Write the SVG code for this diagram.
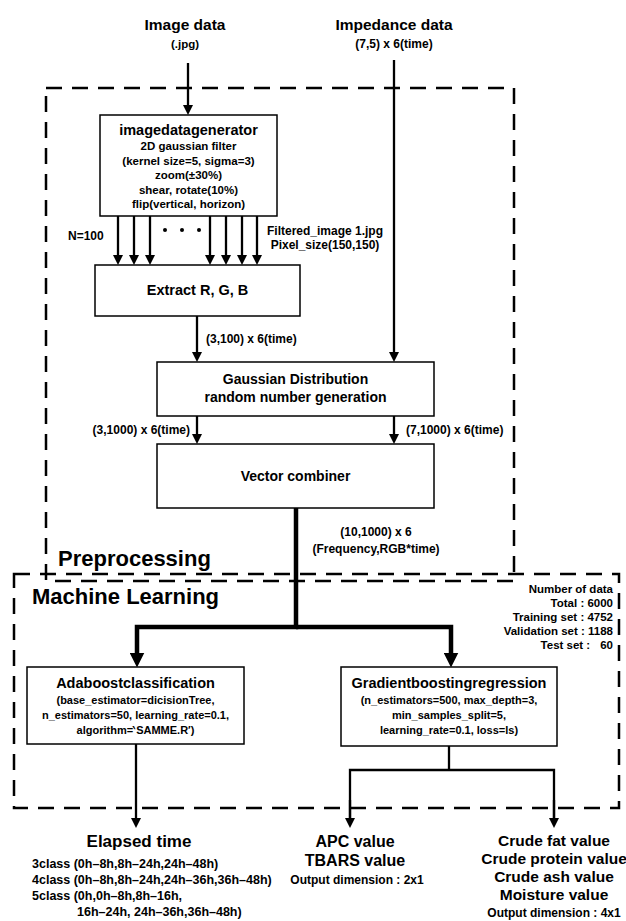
<svg xmlns="http://www.w3.org/2000/svg" width="626" height="921" viewBox="0 0 626 921">
<style>
text{font-family:"Liberation Sans",Arial,sans-serif;font-weight:bold;fill:#000}
.box{fill:#fff;stroke:#000;stroke-width:1.5}
.dash{fill:none;stroke:#000;stroke-width:2.5;stroke-dasharray:16 10}
.ln{fill:none;stroke:#000;stroke-width:2.3}
.thk{fill:none;stroke:#000;stroke-width:4.5}
.m{text-anchor:middle}
.e{text-anchor:end}
</style>
<defs>
<marker id="ah" viewBox="0 0 10 10" refX="5" refY="5" markerWidth="10" markerHeight="10" markerUnits="userSpaceOnUse" orient="auto"><path d="M0,0 L10,5 L0,10 z"/></marker>
<marker id="ahb" viewBox="0 0 10 10" refX="5" refY="5" markerWidth="15" markerHeight="15" markerUnits="userSpaceOnUse" orient="auto"><path d="M0,0 L10,5 L0,10 z"/></marker>
</defs>
<rect width="626" height="921" fill="#fff"/>

<g id="groups">
<rect class="dash" x="46" y="88" width="468" height="493"/>
<text x="58" y="566" font-size="22">Preprocessing</text>
<rect class="dash" x="14" y="574" width="605" height="234"/>
<text x="32" y="604" font-size="22">Machine Learning</text>
</g>

<g id="connectors">
<line class="ln" x1="188" y1="63" x2="188" y2="110" marker-end="url(#ah)"/>
<line class="ln" x1="394" y1="60" x2="394" y2="357" marker-end="url(#ah)"/>
<line class="ln" x1="118" y1="216" x2="118" y2="260" marker-end="url(#ah)"/>
<line class="ln" x1="134" y1="216" x2="134" y2="260" marker-end="url(#ah)"/>
<line class="ln" x1="150" y1="216" x2="150" y2="260" marker-end="url(#ah)"/>
<line class="ln" x1="210" y1="216" x2="210" y2="260" marker-end="url(#ah)"/>
<line class="ln" x1="226" y1="216" x2="226" y2="260" marker-end="url(#ah)"/>
<line class="ln" x1="242" y1="216" x2="242" y2="260" marker-end="url(#ah)"/>
<line class="ln" x1="257" y1="216" x2="257" y2="260" marker-end="url(#ah)"/>
<circle cx="165" cy="230" r="2"/>
<circle cx="182" cy="230" r="2"/>
<circle cx="199" cy="230" r="2"/>
<line class="ln" x1="197" y1="316" x2="197" y2="357" marker-end="url(#ah)"/>
<line class="ln" x1="197" y1="416" x2="197" y2="439" marker-end="url(#ah)"/>
<line class="ln" x1="394" y1="416" x2="394" y2="439" marker-end="url(#ah)"/>
<polyline class="thk" points="296,508 296,627 137,627 137,660" marker-end="url(#ahb)"/>
<polyline class="thk" points="296,627 451,627 451,660" marker-end="url(#ahb)"/>
<line class="ln" x1="136" y1="744" x2="136" y2="823" marker-end="url(#ah)"/>
<polyline class="ln" points="449,746 449,770"/>
<polyline class="ln" points="350,823 350,770 554,770 554,823"/>
<line class="ln" x1="350" y1="800" x2="350" y2="823" marker-end="url(#ah)"/>
<line class="ln" x1="554" y1="800" x2="554" y2="823" marker-end="url(#ah)"/>
</g>

<g id="inputs">
<text class="m" x="185" y="30" font-size="15.5">Image data</text>
<text class="m" x="185" y="48" font-size="11.5">(.jpg)</text>
<text class="m" x="394" y="30" font-size="15.5">Impedance data</text>
<text class="m" x="394" y="48" font-size="12">(7,5) x 6(time)</text>
</g>

<g id="imagedatagenerator">
<rect class="box" x="100" y="115" width="177" height="101"/>
<text class="m" x="188.5" y="135" font-size="14.5">imagedatagenerator</text>
<text class="m" x="188.5" y="150" font-size="11.5">2D gaussian filter</text>
<text class="m" x="188.5" y="164.5" font-size="11.5">(kernel size=5, sigma=3)</text>
<text class="m" x="188.5" y="179" font-size="11.5">zoom(±30%)</text>
<text class="m" x="188.5" y="193.5" font-size="11.5">shear, rotate(10%)</text>
<text class="m" x="188.5" y="208" font-size="11.5">flip(vertical, horizon)</text>
</g>

<g id="labels-pre">
<text x="68" y="240" font-size="12">N=100</text>
<text class="m" x="325" y="235" font-size="12">Filtered_image 1.jpg</text>
<text class="m" x="325" y="249" font-size="12">Pixel_size(150,150)</text>
<text x="206" y="343" font-size="12">(3,100) x 6(time)</text>
<text class="e" x="190" y="434" font-size="12">(3,1000) x 6(time)</text>
<text x="406" y="434" font-size="12">(7,1000) x 6(time)</text>
<text class="m" x="376" y="536" font-size="12">(10,1000) x 6</text>
<text class="m" x="376" y="553" font-size="12">(Frequency,RGB*time)</text>
</g>

<g id="extract">
<rect class="box" x="95" y="265" width="205" height="51"/>
<text class="m" x="197.5" y="295" font-size="14.5">Extract R, G, B</text>
</g>

<g id="gaussian">
<rect class="box" x="157" y="362" width="277" height="54"/>
<text class="m" x="295.5" y="384" font-size="14">Gaussian Distribution</text>
<text class="m" x="295.5" y="402" font-size="14">random number generation</text>
</g>

<g id="vectorcombiner">
<rect class="box" x="157" y="444" width="277" height="64"/>
<text class="m" x="295.5" y="481" font-size="14">Vector combiner</text>
</g>

<g id="numberofdata">
<text class="e" x="613" y="593" font-size="11.5">Number of data</text>
<text class="e" x="613" y="607" font-size="11.5">Total : 6000</text>
<text class="e" x="613" y="621" font-size="11.5">Training set : 4752</text>
<text class="e" x="613" y="635" font-size="11.5">Validation set : 1188</text>
<text class="e" x="613" y="649" font-size="11.5">Test set :<tspan dx="10">60</tspan></text>
</g>

<g id="adaboost">
<rect class="box" x="27" y="667" width="217" height="77"/>
<text class="m" x="135.5" y="688" font-size="14.5">Adaboostclassification</text>
<text class="m" x="135.5" y="704" font-size="11">(base_estimator=dicisionTree,</text>
<text class="m" x="135.5" y="719" font-size="11">n_estimators=50, learning_rate=0.1,</text>
<text class="m" x="135.5" y="734" font-size="11">algorithm=‵SAMME.R′)</text>
</g>

<g id="gradientboosting">
<rect class="box" x="341" y="667" width="216" height="79"/>
<text class="m" x="449" y="688" font-size="14.5">Gradientboostingregression</text>
<text class="m" x="449" y="704" font-size="11">(n_estimators=500, max_depth=3,</text>
<text class="m" x="449" y="719" font-size="11">min_samples_split=5,</text>
<text class="m" x="449" y="734" font-size="11">learning_rate=0.1, loss=ls)</text>
</g>

<g id="elapsedtime">
<text class="m" x="139" y="847" font-size="17">Elapsed time</text>
<text x="32" y="868" font-size="12.5">3class (0h–8h,8h–24h,24h–48h)</text>
<text x="32" y="884" font-size="12.5">4class (0h–8h,8h–24h,24h–36h,36h–48h)</text>
<text x="32" y="900" font-size="12.5">5class (0h,0h–8h,8h–16h,</text>
<text x="77" y="916" font-size="12.5">16h–24h, 24h–36h,36h–48h)</text>
</g>

<g id="apc">
<text class="m" x="355" y="847" font-size="16">APC value</text>
<text class="m" x="355" y="866" font-size="16">TBARS value</text>
<text class="m" x="357" y="884" font-size="12">Output dimension : 2x1</text>
</g>

<g id="crude">
<text class="m" x="554" y="846" font-size="15.5">Crude fat value</text>
<text class="m" x="554" y="864" font-size="15.5">Crude protein value</text>
<text class="m" x="554" y="882" font-size="15.5">Crude ash value</text>
<text class="m" x="554" y="900" font-size="15.5">Moisture value</text>
<text class="m" x="554" y="917" font-size="12">Output dimension : 4x1</text>
</g>
</svg>
